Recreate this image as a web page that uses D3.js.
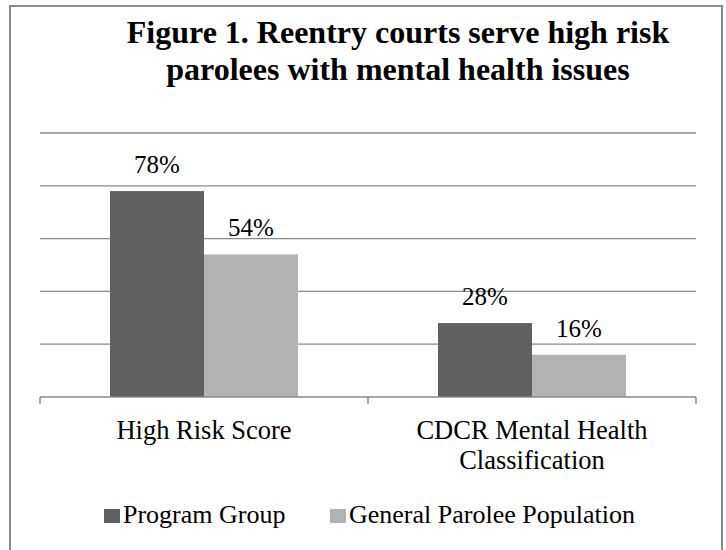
<!DOCTYPE html>
<html>
<head>
<meta charset="utf-8">
<script src="https://cdn.jsdelivr.net/npm/d3@7"></script>
<style>
  html, body { margin: 0; padding: 0; background: #fff; }
  svg { display: block; }
</style>
</head>
<body>
<svg id="chart" width="726" height="550"></svg>
<script>
const titleLines = ["Figure 1. Reentry courts serve high risk", "parolees with mental health issues"];
const categories = ["High Risk Score", "CDCR Mental Health Classification"];
const seriesNames = ["Program Group", "General Parolee Population"];
const programGroup = [0.78, 0.28];
const generalPopulation = [0.54, 0.16];
const gridTicks = [0.2, 0.4, 0.6, 0.8, 1.0];
const seriesColors = ["#606060", "#b2b2b2"];

const FONT = "Liberation Serif";
const seriesValues = [programGroup, generalPopulation];
const svg = d3.select("#chart");

const barData = [];
categories.forEach((c, ci) => seriesNames.forEach((s, si) => barData.push({ c, s, si, v: seriesValues[si][ci] })));

svg.append("rect")
  .attr("x", 10).attr("y", 6)
  .attr("width", 712).attr("height", 560)
  .attr("fill", "#fff").attr("stroke", "#8a8a8a").attr("stroke-width", 2);

const x0 = d3.scaleBand().domain(categories).range([40, 696]).paddingInner(0).paddingOuter(0);
const x1 = d3.scaleBand().domain(seriesNames).range([0, x0.bandwidth()]).paddingInner(0).paddingOuter(0.745);
const y = d3.scaleLinear().domain([0, 1]).range([397, 133]);

svg.selectAll("line.grid").data(gridTicks).join("line")
  .attr("class", "grid")
  .attr("x1", 40).attr("x2", 696)
  .attr("y1", d => y(d)).attr("y2", d => y(d))
  .attr("stroke", "#8a8a8a").attr("stroke-width", 1.3);

svg.selectAll("rect.bar").data(barData).join("rect")
  .attr("class", "bar")
  .attr("x", d => x0(d.c) + x1(d.s))
  .attr("width", x1.bandwidth())
  .attr("y", d => y(d.v))
  .attr("height", d => y(0) - y(d.v))
  .attr("fill", d => seriesColors[d.si]);

svg.selectAll("text.lbl").data(barData).join("text")
  .attr("class", "lbl")
  .attr("font-family", FONT)
  .attr("x", d => x0(d.c) + x1(d.s) + x1.bandwidth() / 2)
  .attr("y", d => y(d.v) - 18)
  .attr("text-anchor", "middle")
  .attr("font-size", 25)
  .text(d => d3.format(".0%")(d.v));

svg.append("line")
  .attr("x1", 40).attr("x2", 696)
  .attr("y1", y(0)).attr("y2", y(0))
  .attr("stroke", "#8a8a8a").attr("stroke-width", 1.5);
const boundaries = categories.map(c => x0(c)).concat([x0(categories[categories.length - 1]) + x0.bandwidth()]);
svg.selectAll("line.tick").data(boundaries).join("line")
  .attr("class", "tick")
  .attr("x1", d => d).attr("x2", d => d)
  .attr("y1", y(0)).attr("y2", y(0) + 7)
  .attr("stroke", "#8a8a8a").attr("stroke-width", 1.5);

const labelLineData = [];
categories.forEach(c => {
  const words = c.split(" ");
  const lines = words.length > 3 ? [words.slice(0, 3).join(" "), words.slice(3).join(" ")] : [c];
  lines.forEach((t, li) => labelLineData.push({ c, t, li }));
});
svg.selectAll("text.cat").data(labelLineData).join("text")
  .attr("class", "cat")
  .attr("font-family", FONT)
  .attr("x", d => x0(d.c) + x0.bandwidth() / 2)
  .attr("y", d => 439 + d.li * 30)
  .attr("text-anchor", "middle")
  .attr("font-size", 26.5)
  .text(d => d.t);

const legendX = [104, 330];
svg.selectAll("rect.leg").data(seriesNames).join("rect")
  .attr("class", "leg")
  .attr("x", (d, i) => legendX[i]).attr("y", 509)
  .attr("width", 16).attr("height", 14)
  .attr("fill", (d, i) => seriesColors[i]);
svg.selectAll("text.leg").data(seriesNames).join("text")
  .attr("class", "leg")
  .attr("font-family", FONT)
  .attr("x", (d, i) => legendX[i] + 19).attr("y", 523)
  .attr("font-size", 26)
  .text(d => d);

svg.selectAll("text.title").data(titleLines).join("text")
  .attr("class", "title")
  .attr("font-family", FONT)
  .attr("x", 398).attr("y", (d, i) => 43 + i * 37)
  .attr("text-anchor", "middle")
  .attr("font-size", 32).attr("font-weight", "bold")
  .text(d => d);
</script>
</body>
</html>
